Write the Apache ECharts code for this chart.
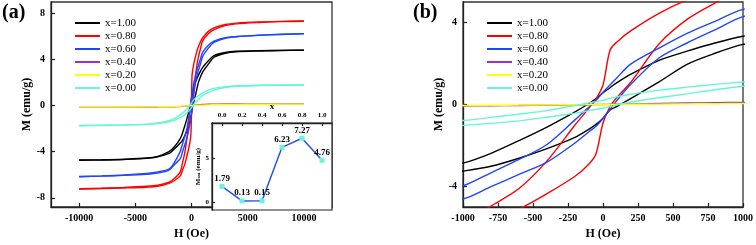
<!DOCTYPE html>
<html>
<head>
<meta charset="utf-8">
<script src="https://cdn.jsdelivr.net/npm/echarts@6/dist/echarts.min.js"></script>
<style>html,body{margin:0;padding:0;background:#fff}#c{width:756px;height:245px}</style>
</head>
<body>
<div id="c"></div>
<script>
// Applied field H (Oe) grid shared by all branches
const fieldH = [-10000,-8000,-6000,-4000,-3000,-2000,-1500,-1000,-800,-600,-400,-200,-100,-50,0,50,100,200,400,600,800,1000,1500,2000,3000,4000,6000,8000,10000];
// Magnetization M (emu/g), upper and lower branches of each loop
const m100Up = [-4.72,-4.70,-4.65,-4.55,-4.40,-4.00,-3.55,-2.86,-2.38,-1.76,-1.10,-0.36,0.05,0.29,0.57,0.82,1.07,1.48,2.15,2.60,3.00,3.33,3.90,4.35,4.62,4.72,4.78,4.80,4.82];
const m100Dn = [-4.74,-4.72,-4.67,-4.58,-4.45,-4.15,-3.75,-3.25,-3.01,-2.62,-2.15,-1.60,-1.20,-0.97,-0.67,-0.27,-0.09,0.30,1.10,1.96,2.50,2.93,3.60,4.20,4.55,4.68,4.75,4.79,4.81];
const m080Up = [-7.22,-7.17,-7.10,-7.00,-6.90,-6.65,-6.30,-5.75,-4.95,-4.10,-2.75,-1.00,-0.17,0.27,0.95,2.65,3.05,3.60,4.45,5.10,5.55,5.90,6.45,6.75,7.05,7.17,7.27,7.32,7.35];
const m080Dn = [-7.24,-7.20,-7.15,-7.08,-7.00,-6.75,-6.50,-6.10,-5.60,-5.10,-4.35,-3.50,-2.90,-2.40,-0.90,-0.10,0.35,1.10,2.95,4.15,4.95,5.65,6.25,6.60,6.95,7.10,7.22,7.30,7.33];
const m060Up = [-6.15,-6.10,-6.02,-5.88,-5.75,-5.50,-4.90,-3.97,-3.33,-2.68,-1.95,-0.75,-0.12,0.20,0.60,0.95,1.31,1.98,2.75,3.47,4.06,4.64,5.25,5.60,5.90,6.00,6.12,6.20,6.25];
const m060Dn = [-6.17,-6.12,-6.05,-5.95,-5.85,-5.60,-5.10,-4.61,-4.01,-3.41,-2.81,-1.88,-1.33,-1.06,-0.68,-0.24,0.20,1.00,2.27,3.00,3.64,4.29,5.00,5.50,5.85,5.98,6.10,6.18,6.24];
const m040 = [-0.15,-0.15,-0.14,-0.13,-0.12,-0.10,-0.09,-0.07,-0.06,-0.05,-0.03,-0.02,-0.01,0,0,0.01,0.02,0.03,0.05,0.07,0.09,0.10,0.12,0.13,0.14,0.15,0.15,0.15,0.15];
const m020 = [-0.13,-0.13,-0.12,-0.11,-0.10,-0.08,-0.07,-0.05,-0.04,-0.03,-0.02,-0.01,0,0,0,0,0,0.01,0.02,0.03,0.04,0.05,0.07,0.08,0.10,0.11,0.12,0.13,0.13];
const m000Up = [-1.72,-1.70,-1.67,-1.60,-1.50,-1.30,-1.10,-0.78,-0.63,-0.47,-0.30,-0.05,0.08,0.14,0.20,0.30,0.38,0.50,0.70,0.85,0.98,1.10,1.35,1.50,1.65,1.72,1.77,1.79,1.80];
const m000Dn = [-1.74,-1.72,-1.69,-1.63,-1.55,-1.40,-1.25,-1.02,-0.92,-0.80,-0.62,-0.42,-0.30,-0.24,-0.18,-0.10,-0.02,0.12,0.33,0.52,0.72,0.89,1.15,1.35,1.58,1.68,1.75,1.78,1.79];
// Inset: saturation magnetization vs composition
const insetX = [0.0,0.2,0.4,0.6,0.8,1.0];
const insetMsat = [1.79,0.13,0.15,6.23,7.27,4.76];
// Legend names and tick labels
const sampleNames = ['x=1.00','x=0.80','x=0.60','x=0.40','x=0.20','x=0.00'];
const ticksA_X = [-10000,-5000,0,5000,10000];
const ticksA_Y = [-8,-4,0,4,8];
const ticksB_Y = [-4,0,4];
const insetTicksX = [0.0,0.2,0.4,0.6,0.8,1.0];
const insetTicksY = [0,5];

const colors = {'x=1.00':'#000000','x=0.80':'#ff0000','x=0.60':'#1f45ff','x=0.40':'#9933cc','x=0.20':'#ffff00','x=0.00':'#66f5d5'};
const branches = [
  ['x=1.00', m100Up], ['x=1.00', m100Dn],
  ['x=0.80', m080Up], ['x=0.80', m080Dn],
  ['x=0.60', m060Up], ['x=0.60', m060Dn],
  ['x=0.40', m040],
  ['x=0.20', m020],
  ['x=0.00', m000Up], ['x=0.00', m000Dn]
];
const FF = '"Liberation Serif","Times New Roman",serif';
const pair = arr => fieldH.map((h,i)=>[h, arr[i]]);

const series = [];
[0,1].forEach(g=>{
  branches.forEach(([name, arr])=>{
    series.push({
      type:'line', name, xAxisIndex:g, yAxisIndex:g, data: pair(arr),
      symbol:'none', smooth:0.3, animation:false, z:2,
      lineStyle:{color:colors[name], width:1.4}, itemStyle:{color:colors[name]}
    });
  });
});
series.push({
  type:'line', xAxisIndex:2, yAxisIndex:2, z:12, animation:false,
  data: insetX.map((x,i)=>[x, insetMsat[i]]),
  symbol:'rect', symbolSize:5, itemStyle:{color:'#66f5d5'},
  lineStyle:{color:'#2a52e8', width:1.5},
  label:{show:true, position:'top', distance:1, formatter:p=>p.value[1].toFixed(2),
    fontFamily:FF, fontWeight:'bold', fontSize:9, color:'#000'}
});

const axCommon = {
  axisLine:{show:true, onZero:false, lineStyle:{color:'#222', width:1.3}},
  axisTick:{show:true, inside:true, length:4, lineStyle:{color:'#222', width:1.2}},
  splitLine:{show:false},
  axisLabel:{fontFamily:FF, fontWeight:'bold', fontSize:10, color:'#000', margin:6, formatter:v=>String(v)},
  nameTextStyle:{fontFamily:FF, fontWeight:'bold', fontSize:12, color:'#000'}
};
function ax(extra){ return echarts.util.merge(echarts.util.clone(axCommon), extra, true); }

const legendBase = {
  orient:'vertical', icon:'rect', itemWidth:25, itemHeight:2, itemGap:0, itemTextGap:3, padding:0,
  data: sampleNames, selectedMode:false,
  textStyle:{fontFamily:FF, fontSize:11, color:'#000', lineHeight:13}
};

const option = {
  backgroundColor:'#fff',
  animation:false,
  graphic:[
    {type:'text', left:2, top:3, style:{text:'(a)', font:'bold 20px '+FF, fill:'#000'}},
    {type:'text', left:413, top:3, style:{text:'(b)', font:'bold 20px '+FF, fill:'#000'}}
  ],
  legend:[
    Object.assign({}, legendBase, {left:75, top:16.5}),
    Object.assign({}, legendBase, {left:487, top:16.5})
  ],
  grid:[
    {left:51, top:2, width:281, height:208, show:true, borderColor:'#333', borderWidth:1.3},
    {left:463, top:2, width:281, height:208, show:true, borderColor:'#333', borderWidth:1.3},
    {left:212, top:123, width:120, height:87, show:true, backgroundColor:'#fff', borderColor:'#222', borderWidth:1.2, z:10}
  ],
  xAxis:[
    ax({gridIndex:0, type:'value', min:-12500, max:12500,
      axisTick:{customValues:ticksA_X}, axisLabel:{customValues:ticksA_X},
      name:'H (Oe)', nameLocation:'middle', nameGap:21}),
    ax({gridIndex:1, type:'value', min:-1000, max:1000, interval:250,
      name:'H (Oe)', nameLocation:'middle', nameGap:21}),
    ax({gridIndex:2, type:'value', position:'top', min:-0.1, max:1.1, z:12,
      axisTick:{customValues:insetTicksX, length:3},
      axisLabel:{customValues:insetTicksX, fontSize:7, margin:4, formatter:v=>v.toFixed(1)},
      name:'x', nameLocation:'middle', nameGap:10, nameTextStyle:{fontSize:9}})
  ],
  yAxis:[
    ax({gridIndex:0, type:'value', min:-8.8, max:9,
      axisTick:{customValues:ticksA_Y}, axisLabel:{customValues:ticksA_Y},
      name:'M (emu/g)', nameLocation:'middle', nameGap:14}),
    ax({gridIndex:1, type:'value', min:-5, max:5,
      axisTick:{customValues:ticksB_Y}, axisLabel:{customValues:ticksB_Y},
      name:'M (emu/g)', nameLocation:'middle', nameGap:14}),
    ax({gridIndex:2, type:'value', min:-0.9, max:9, z:12,
      axisTick:{customValues:insetTicksY, length:3},
      axisLabel:{customValues:insetTicksY, fontSize:7, margin:3},
      name:'M{sub|sat} (emu/g)', nameLocation:'middle', nameGap:6,
      nameTextStyle:{fontSize:7, rich:{sub:{fontSize:5, verticalAlign:'bottom', fontFamily:FF, fontWeight:'bold'}}}})
  ],
  series
};
const chart = echarts.init(document.getElementById('c'), null, {renderer:'canvas'});
chart.setOption(option);
</script>
</body>
</html>
